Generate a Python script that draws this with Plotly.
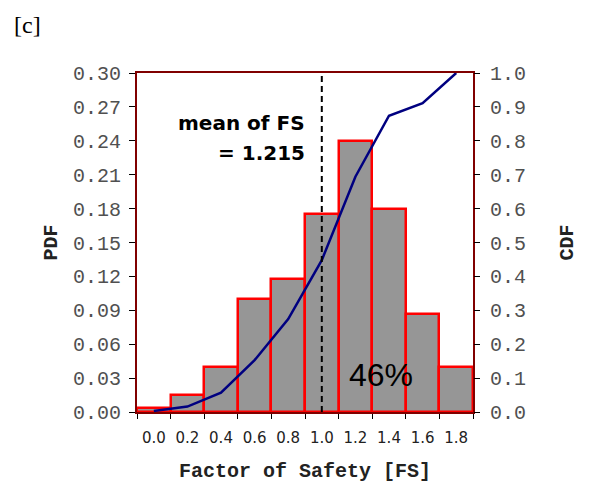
import plotly.graph_objects as go

# ---- data ----
fs_labels = ["0.0", "0.2", "0.4", "0.6", "0.8", "1.0", "1.2", "1.4", "1.6", "1.8"]
pdf_values = [0.0035, 0.015, 0.040, 0.100, 0.118, 0.175, 0.240, 0.180, 0.087, 0.040]
cdf_values = [0.003, 0.016, 0.057, 0.153, 0.274, 0.448, 0.694, 0.874, 0.911, 1.0]
mean_fs_text = "1.215"
mean_line_category = "1.0"
pct_label = "46%"
pdf_ticks = [0.00, 0.03, 0.06, 0.09, 0.12, 0.15, 0.18, 0.21, 0.24, 0.27, 0.30]
cdf_ticks = [0.0, 0.1, 0.2, 0.3, 0.4, 0.5, 0.6, 0.7, 0.8, 0.9, 1.0]

mono = "Liberation Mono, Courier New, monospace"
sans = "DejaVu Sans, Verdana, sans-serif"

fig = go.Figure()
fig.add_trace(go.Bar(
    x=fs_labels, y=pdf_values, width=1.0,
    marker=dict(color="#969696", line=dict(color="#FF0000", width=2.5)),
    yaxis="y", showlegend=False,
))
fig.add_trace(go.Scatter(
    x=fs_labels, y=cdf_values, mode="lines",
    line=dict(color="#000080", width=2.5),
    yaxis="y2", showlegend=False,
))

mean_idx = fs_labels.index(mean_line_category)
fig.add_shape(type="line", xref="x", yref="paper", x0=mean_idx, x1=mean_idx, y0=0, y1=1,
              line=dict(color="black", width=2, dash="6px,4px"), layer="above")

fig.add_annotation(xref="paper", yref="paper", x=0.507, y=0.853, xanchor="right", yanchor="middle",
                   text="<b>mean of FS</b>", showarrow=False,
                   font=dict(family=sans, size=20, color="black"))
fig.add_annotation(xref="paper", yref="paper", x=0.507, y=0.765, xanchor="right", yanchor="middle",
                   text="<b>= " + mean_fs_text + "</b>", showarrow=False,
                   font=dict(family=sans, size=20, color="black"))
fig.add_annotation(xref="paper", yref="paper", x=0.725, y=0.11, xanchor="center", yanchor="middle",
                   text=pct_label, showarrow=False,
                   font=dict(family="Liberation Sans, Arial, sans-serif", size=32, color="black"))
fig.add_annotation(xref="paper", yref="paper", x=-0.371, y=1.185, xanchor="left", yanchor="top",
                   text="[c]", showarrow=False,
                   font=dict(family="Liberation Serif, Times New Roman, serif", size=24, color="black"))

fig.update_layout(
    width=594, height=483,
    margin=dict(l=137, r=121, t=73, b=71, autoexpand=False),
    paper_bgcolor="white", plot_bgcolor="white",
    bargap=0,
    xaxis=dict(
        type="category", range=[-0.5, len(fs_labels) - 0.5], automargin=False,
        tickson="boundaries", ticks="outside", ticklen=5, tickcolor="black",
        showgrid=False, showline=True, linecolor="#800000", linewidth=2, mirror=True,
        tickfont=dict(family=sans, size=15, color="#222"),
        ticklabelstandoff=11,
        title=dict(text="<b>Factor of Safety [FS]</b>", font=dict(family=mono, size=20, color="#222"), standoff=18),
    ),
    yaxis=dict(
        range=[0, 0.30], tickvals=pdf_ticks, tickformat=".2f", automargin=False,
        ticks="outside", ticklen=6, tickcolor="black",
        showgrid=False, zeroline=False, showline=True, linecolor="#800000", linewidth=2, mirror=True,
        tickfont=dict(family=mono, size=20, color="#505050"),
        ticklabelstandoff=4,
        title=dict(text="<b>PDF</b>", font=dict(family=mono, size=20, color="#222"), standoff=10),
    ),
    yaxis2=dict(
        range=[0, 1.0], tickvals=cdf_ticks, tickformat=".1f", automargin=False,
        overlaying="y", side="right",
        ticks="outside", ticklen=6, tickcolor="black",
        showgrid=False, zeroline=False, showline=False,
        tickfont=dict(family=mono, size=20, color="#505050"),
        ticklabelstandoff=6,
        title=dict(text="<b>CDF</b>", font=dict(family=mono, size=20, color="#222"), standoff=33),
    ),
)

fig.write_html("out.html", config={"displayModeBar": False},
               post_script="document.body.style.margin='0px';")
